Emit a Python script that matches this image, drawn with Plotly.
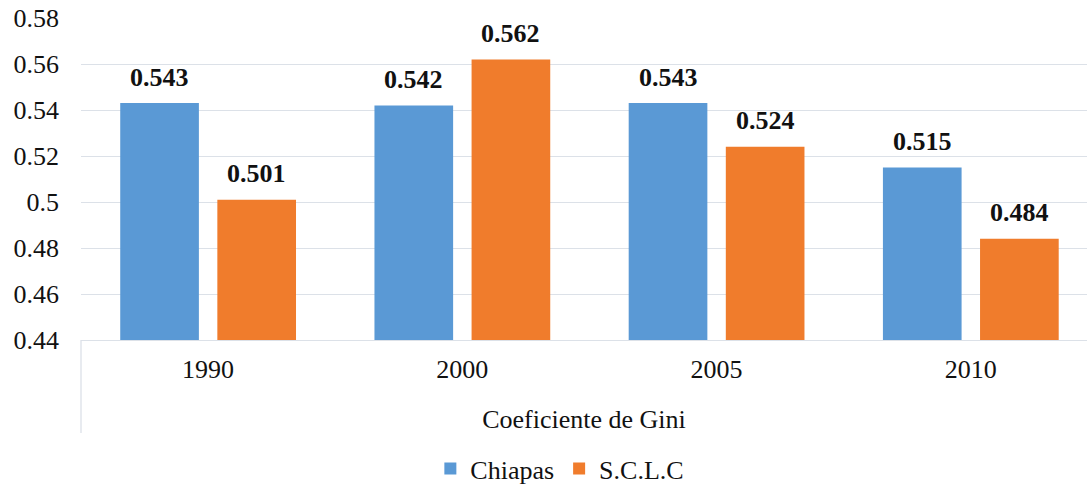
import plotly.graph_objects as go

years = ["1990", "2000", "2005", "2010"]
chiapas = [0.543, 0.542, 0.543, 0.515]
sclc = [0.501, 0.562, 0.524, 0.484]
series_names = ["Chiapas", "S.C.L.C"]
group_title = "Coeficiente de Gini"
y_ticks = [0.44, 0.46, 0.48, 0.5, 0.52, 0.54, 0.56, 0.58]

FONT = "Liberation Serif"
BLUE = "#5A99D5"
ORANGE = "#F07C2C"
GRID = "#DCE1E8"
TXT = "#111111"

fig = go.Figure()
fig.add_trace(go.Bar(x=years, y=chiapas, name=series_names[0], marker=dict(color=BLUE, line=dict(width=0))))
fig.add_trace(go.Bar(x=years, y=sclc, name=series_names[1], marker=dict(color=ORANGE, line=dict(width=0))))

# data labels
for vals, shift in ((chiapas, -48.5), (sclc, 48.5)):
    for i, v in enumerate(vals):
        fig.add_annotation(x=i, y=v, xref="x", yref="y", text=f"<b>{v:.3f}</b>", showarrow=False,
                           xshift=shift, yshift=26, yanchor="middle",
                           font=dict(family=FONT, size=26, color=TXT))

# left divider line of the category axis
fig.add_shape(type="line", xref="paper", yref="paper", x0=0, x1=0, y0=0, y1=-95/329,
              line=dict(color=GRID, width=1.3))

fig.update_layout(
    width=1087, height=492,
    margin=dict(l=81, r=0, t=18, b=145),
    paper_bgcolor="white", plot_bgcolor="white",
    barmode="group", bargap=0.236, bargroupgap=0.19,
    font=dict(family=FONT, size=26, color=TXT),
    showlegend=True,
    legend=dict(orientation="h", x=0.476, xanchor="center", y=-0.4, yanchor="middle",
                font=dict(family=FONT, size=26, color=TXT), itemwidth=30, traceorder="normal"),
    xaxis=dict(type="category", range=[-0.5, 3.457], showgrid=False, ticks="",
               showline=True, linecolor=GRID, linewidth=1.3, zeroline=False, automargin=False,
               tickfont=dict(family=FONT, size=26, color=TXT), ticklabelstandoff=6,
               title=dict(text=group_title, font=dict(family=FONT, size=26, color=TXT), standoff=26)),
    yaxis=dict(range=[0.44, 0.58], tickvals=y_ticks, showgrid=True, gridcolor=GRID, gridwidth=1.3,
               showline=False, zeroline=False, ticks="", ticklabelstandoff=21, automargin=False,
               ticklabeloverflow="allow",
               tickfont=dict(family=FONT, size=26, color=TXT)),
)

fig.write_html("out.html", config={"displayModeBar": False},
               post_script="document.body.style.margin='0';document.body.style.overflow='hidden';")
